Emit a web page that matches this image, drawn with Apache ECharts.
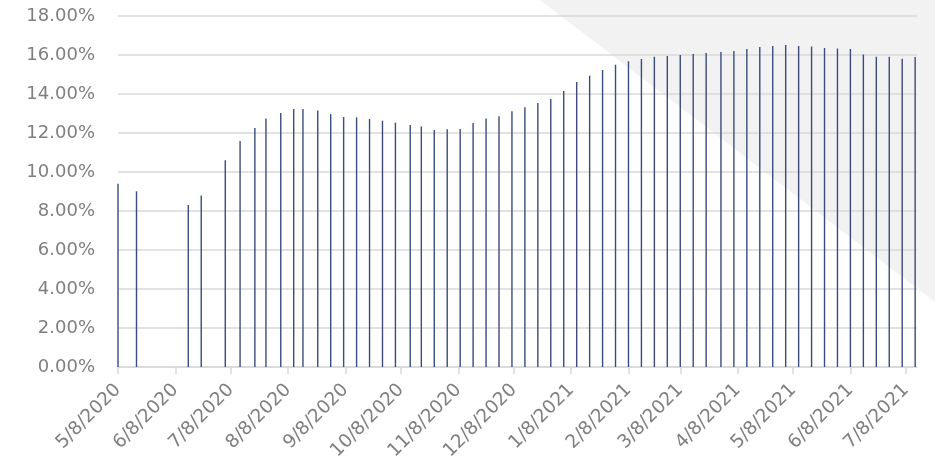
<!DOCTYPE html>
<html>
<head>
<meta charset="utf-8">
<script src="https://cdn.jsdelivr.net/npm/echarts@6/dist/echarts.min.js"></script>
<style>
html,body{margin:0;padding:0;background:#fff;}
#chart{width:935px;height:472px;}
</style>
</head>
<body>
<div id="chart"></div>
<script>
// Observation dates
const dates = [
  '2020-05-08','2020-05-18','2020-06-15','2020-06-22','2020-07-05','2020-07-13','2020-07-21','2020-07-27',
  '2020-08-04','2020-08-11','2020-08-16','2020-08-24','2020-08-31','2020-09-07','2020-09-14','2020-09-21',
  '2020-09-28','2020-10-05','2020-10-13','2020-10-19','2020-10-26','2020-11-02','2020-11-09','2020-11-16',
  '2020-11-23','2020-11-30','2020-12-07','2020-12-14','2020-12-21','2020-12-28','2021-01-04','2021-01-11',
  '2021-01-18','2021-01-25','2021-02-01','2021-02-08','2021-02-15','2021-02-22','2021-03-01','2021-03-08',
  '2021-03-15','2021-03-22','2021-03-30','2021-04-06','2021-04-13','2021-04-20','2021-04-27','2021-05-04',
  '2021-05-11','2021-05-18','2021-05-25','2021-06-01','2021-06-08','2021-06-15','2021-06-22','2021-06-29',
  '2021-07-06','2021-07-13'
];
// Values in percent
const values = [
  9.40, 9.01, 8.31, 8.80, 10.60, 11.59, 12.26, 12.75,
  13.03, 13.23, 13.23, 13.16, 12.97, 12.82, 12.80, 12.72,
  12.63, 12.53, 12.41, 12.34, 12.15, 12.19, 12.21, 12.51,
  12.74, 12.86, 13.11, 13.32, 13.54, 13.74, 14.15, 14.62,
  14.94, 15.23, 15.50, 15.68, 15.79, 15.91, 15.95, 16.00,
  16.05, 16.10, 16.15, 16.21, 16.31, 16.41, 16.46, 16.51,
  16.46, 16.44, 16.36, 16.33, 16.31, 16.02, 15.91, 15.91,
  15.81, 15.90
];
// Month tick labels
const tickDates = [
  '2020-05-08','2020-06-08','2020-07-08','2020-08-08','2020-09-08','2020-10-08','2020-11-08',
  '2020-12-08','2021-01-08','2021-02-08','2021-03-08','2021-04-08','2021-05-08','2021-06-08','2021-07-08'
];
const axisMin = '2020-05-08';
const axisMax = '2021-07-14';
const yMin = 0, yMax = 18, yStep = 2;

function ts(s){ const p = s.split('-').map(Number); return Date.UTC(p[0], p[1]-1, p[2]); }
const seriesData = dates.map((d, i) => [ts(d), values[i]]);
const tickValues = tickDates.map(ts);

const chart = echarts.init(document.getElementById('chart'), null, {renderer: 'canvas'});
const FONT = 'DejaVu Sans';
chart.setOption({
  animation: false,
  backgroundColor: '#ffffff',
  graphic: [{
    type: 'polygon',
    z: -100,
    silent: true,
    shape: { points: [[540, 0], [935, 0], [935, 302]] },
    style: { fill: '#f2f2f2' }
  }],
  grid: { left: 118, right: 18, top: 16, bottom: 105, containLabel: false },
  xAxis: {
    type: 'value',
    min: ts(axisMin),
    max: ts(axisMax),
    scale: true,
    splitLine: { show: false },
    axisLine: { show: true, lineStyle: { color: '#d9d9d9', width: 1.5 } },
    axisTick: { show: true, customValues: tickValues, length: 7, lineStyle: { color: '#d9d9d9', width: 1.5 } },
    axisLabel: {
      customValues: tickValues,
      rotate: 45,
      margin: 20,
      color: '#7f7f7f',
      fontFamily: FONT,
      fontSize: 18.5,
      hideOverlap: false,
      formatter: function (v) {
        const d = new Date(v);
        return (d.getUTCMonth() + 1) + '/' + d.getUTCDate() + '/' + d.getUTCFullYear();
      }
    }
  },
  yAxis: {
    type: 'value',
    min: yMin, max: yMax, interval: yStep,
    axisLine: { show: false },
    axisTick: { show: false },
    splitLine: { show: true, lineStyle: { color: '#d9d9d9', width: 1.5 } },
    axisLabel: {
      margin: 23,
      color: '#7f7f7f',
      fontFamily: FONT,
      fontSize: 18,
      formatter: v => v.toFixed(2) + '%'
    }
  },
  series: [{
    type: 'bar',
    data: seriesData,
    barWidth: 1.4,
    itemStyle: { color: '#3b4c7c' },
    z: 3
  }]
});
</script>
</body>
</html>
